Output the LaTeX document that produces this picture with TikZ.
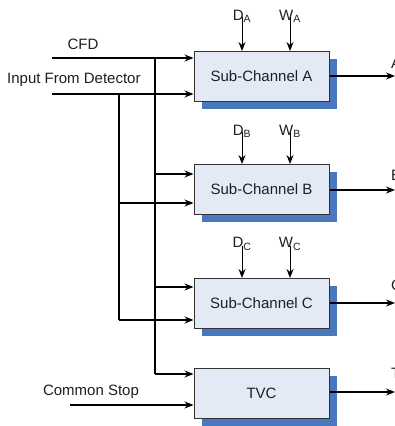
\documentclass[tikz,border=0pt]{standalone}
\usepackage{fontspec}
\setmainfont{Liberation Sans}
\usetikzlibrary{arrows.meta,shadows}
\definecolor{boxfill}{HTML}{E4EAF5}
\definecolor{shadowblue}{HTML}{4A78BE}
\definecolor{edgegray}{HTML}{333333}
\definecolor{txt}{HTML}{1E1E28}
\begin{document}
\begin{tikzpicture}[x=1pt,y=-1pt,
  font=\fontsize{15}{17}\selectfont, text=txt,
  chbox/.style={draw=edgegray, line width=1pt, fill=boxfill, minimum width=135pt, minimum height=50pt, inner sep=0pt,
    drop shadow={shadow xshift=7.5pt, shadow yshift=-7.5pt, fill=shadowblue, opacity=1}},
  sig/.style={line width=1.3pt, -{Stealth[length=9pt,width=7pt]}},
  wire/.style={line width=1.3pt},
  lbl/.style={inner sep=0pt}]
\useasboundingbox (0,0) rectangle (395,426);

% boxes
\node[chbox] (A) at (261.5,76.5) {Sub-Channel A};
\node[chbox] (B) at (261.5,189.5) {Sub-Channel B};
\node[chbox] (C) at (261.5,303.5) {Sub-Channel C};
\node[chbox] (T) at (261.5,393) {TVC};

% input labels
\node[lbl] (cfdl) at (83,44) {CFD};
\node[lbl, anchor=west] (inl) at (7,80) {Input From Detector};
\node[lbl] (csl) at (91,392) {Common Stop};

% input coordinates
\coordinate (cfd) at (52,58);
\coordinate (inp) at (52,94);
\coordinate (cs) at (70,405);
\coordinate (j1) at (155,58);
\coordinate (j2) at (119,94);
\coordinate (k1) at (155,374);
\coordinate (k2) at (119,320);

% main inputs to A
\draw[sig] (cfd) -- (cfd -| A.west);
\draw[sig] (inp) -- (inp -| A.west);

% CFD bus
\draw[wire] (j1) -- (k1);
\draw[sig] (k1) -- (k1 -| T.west);
\draw[sig] (155,174) -- (B.west |- 0,174);
\draw[sig] (155,287) -- (C.west |- 0,287);

% Input bus
\draw[wire] (j2) -- (k2);
\draw[sig] (k2) -- (k2 -| C.west);
\draw[sig] (119,203) -- (B.west |- 0,203);

% common stop
\draw[sig] (cs) -- (cs -| T.west);

% D and W inputs
\foreach \b/\s/\yl in {A/A/16, B/B/131, C/C/244}{
  \node[lbl] (D\b) at (242,\yl) {D\textsubscript{\s}};
  \node[lbl] (W\b) at (290,\yl) {W\textsubscript{\s}};
  \draw[sig, line width=1pt] ([yshift=5pt]D\b.south) -- (D\b.south |- \b.north);
  \draw[sig, line width=1pt] ([yshift=5pt]W\b.south) -- (W\b.south |- \b.north);
}

% outputs
\coordinate (oA) at (395,76);
\coordinate (oB) at (395,190);
\coordinate (oC) at (395,303);
\coordinate (oT) at (395,392);
\draw[sig] (A.east |- oA) -- (oA);
\draw[sig] (B.east |- oB) -- (oB);
\draw[sig] (C.east |- oC) -- (oC);
\draw[sig] (T.east |- oT) -- (oT);
\node[lbl, anchor=west] (lA) at (391,63) {A};
\node[lbl, anchor=west] (lB) at (391,175) {B};
\node[lbl, anchor=west] (lC) at (391,285) {C};
\node[lbl, anchor=west] (lT) at (391,373) {T};
\end{tikzpicture}
\end{document}
